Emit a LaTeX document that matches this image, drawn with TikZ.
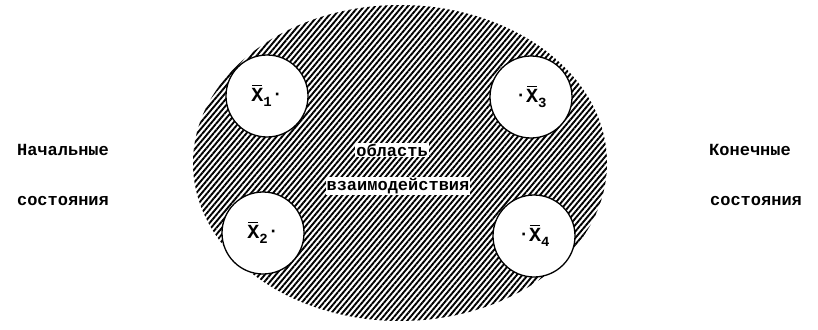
\documentclass[tikz,border=0pt]{standalone}
\usepackage{fontspec}
\setmainfont{Liberation Mono}
\usepackage{tikz}
\usetikzlibrary{patterns.meta}
\tikzset{st/.style={circle,draw=black,line width=1.3pt,fill=white,minimum size=82pt,inner sep=0pt,font=\fontsize{20}{20}\selectfont\bfseries},
lbl/.style={font=\fontsize{17}{17}\selectfont\bfseries,inner sep=1pt}}
\newcommand{\xb}[1]{\makebox[0pt][l]{\kern1pt\raisebox{15.5pt}{\rule{10pt}{1.4pt}}}X\raisebox{-5pt}{\fontsize{14}{14}\selectfont #1}}
\newcommand{\pt}{\raisebox{2pt}{\fontsize{18}{18}\selectfont\textperiodcentered}}
\begin{document}
\begin{tikzpicture}[x=1pt,y=-1pt]
\useasboundingbox (0,0) rectangle (818,329);
\fill[pattern={Lines[angle=50,distance=4.2pt,line width=1.9pt]}] (400,163) ellipse [x radius=207,y radius=158];
\node[st] (x1) at (267,96) {\xb{1}\pt}; \node[st] (x2) at (263,233) {\xb{2}\pt};
\node[st] (x3) at (531,97) {\pt\xb{3}}; \node[st] (x4) at (534,236) {\pt\xb{4}};
\node[lbl,fill=white] (obl) at (392,150) {область}; \node[lbl,fill=white] (vz) at (398,186) {взаимодействия};
\node[lbl] (nach) at (63,150) {Начальные}; \node[lbl] (sost1) at (63,201) {состояния};
\node[lbl] (kon) at (750,150) {Конечные}; \node[lbl] (sost2) at (756,201) {состояния};
\end{tikzpicture}
\end{document}
